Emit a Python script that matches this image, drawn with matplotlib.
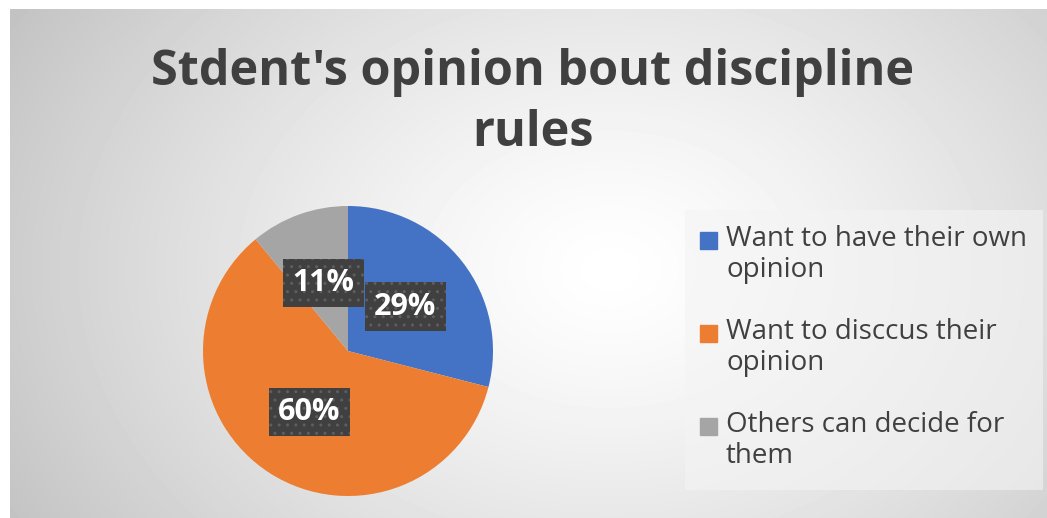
import numpy as np
import matplotlib.pyplot as plt

# Pie data
labels = ['Want to have their own\nopinion', 'Want to disccus their\nopinion', 'Others can decide for\nthem']
shares = [29, 60, 11]
colors = ['#4472C4', '#ED7D31', '#A5A5A5']
title = "Stdent's opinion bout discipline\nrules"

W, H = 1047, 518
fig = plt.figure(figsize=(W / 100, H / 100), dpi=100)
fig.patch.set_facecolor('white')

# radial grey gradient background of the chart area
bg = fig.add_axes([10 / W, 0, 1 - 10 / W, 1 - 9 / H])
yy, xx = np.mgrid[0:509, 0:1037]
d = np.sqrt(((xx - 600) / 700.0) ** 2 + ((yy - 260) / 520.0) ** 2)
shade = 1.0 - 0.24 * np.clip(d, 0, 1) ** 1.3
bg.imshow(shade, cmap='gray', vmin=0, vmax=1, aspect='auto', interpolation='bilinear')
bg.axis('off')

fig.text(533 / W, 1 - 103 / H, title, ha='center', va='center', fontsize=35,
         fontweight='bold', color='#404040', family='Open Sans', linespacing=1.3)

# pie
r = 145
cx, cy = 348, 351
ax = fig.add_axes([(cx - r) / W, 1 - (cy + r) / H, 2 * r / W, 2 * r / H])
wedges, texts, autotexts = ax.pie(shares, colors=colors, startangle=90, counterclock=False,
                                  autopct='%d%%', pctdistance=0.5,
                                  wedgeprops=dict(linewidth=0))
ax.set_xlim(-1, 1)
ax.set_ylim(-1, 1)
ax.set_aspect('auto')
for t in autotexts:
    t.set_color('white')
    t.set_fontsize(22)
    t.set_fontweight('bold')
    t.set_family('Open Sans')
    t.set_bbox(dict(boxstyle='square,pad=0.3', facecolor='#404040', edgecolor='#5e5e5e',
                    hatch='..', linewidth=0))

# legend box
lg = fig.add_axes([685 / W, 1 - 490 / H, 358 / W, 280 / H])
lg.set_facecolor('#f4f4f4')
lg.patch.set_alpha(0.6)
lg.set_xticks([])
lg.set_yticks([])
for s in lg.spines.values():
    s.set_visible(False)
lg.set_xlim(0, 358)
lg.set_ylim(280, 0)
for i, (lab, c) in enumerate(zip(labels, colors)):
    y0 = 30 + i * 93
    lg.add_patch(plt.Rectangle((15, y0 - 8), 17, 17, color=c))
    lg.text(41, y0 - 15, lab, va='top', ha='left', fontsize=20, color='#404040',
            family='Open Sans', linespacing=1.15)

fig.savefig('out.png', dpi=100)
